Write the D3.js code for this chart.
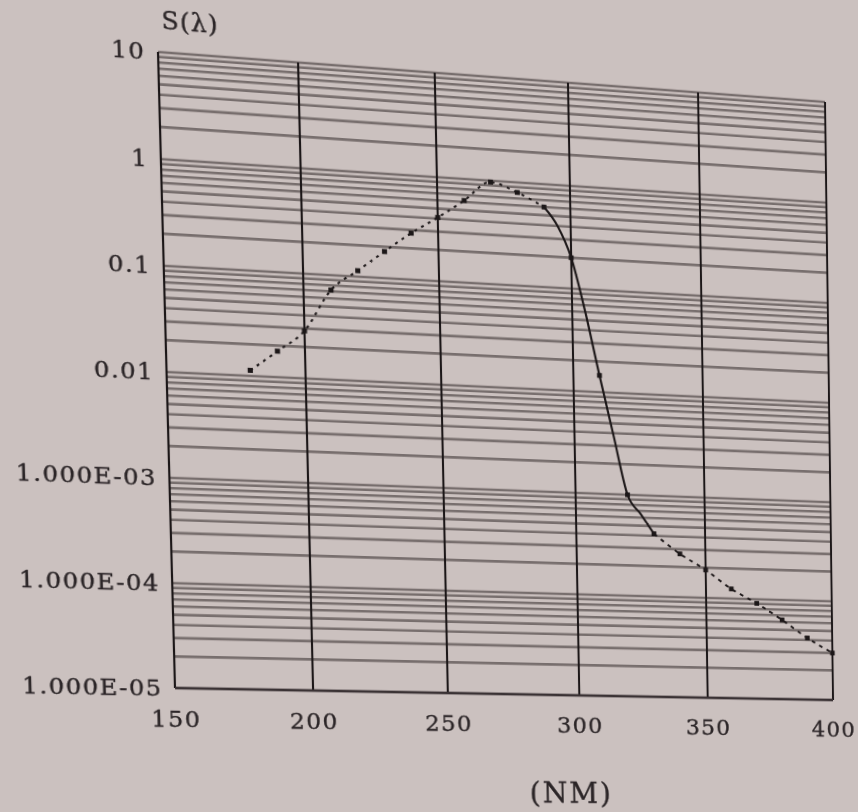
<!DOCTYPE html>
<html>
<head>
<meta charset="utf-8">
<script src="https://cdn.jsdelivr.net/npm/d3@7"></script>
<style>
  html, body { margin: 0; padding: 0; width: 858px; height: 812px; overflow: hidden; background: #cbc1bf; }
  svg { position: absolute; left: 0; top: 0; transform-origin: 0 0; }
  text { font-family: "DejaVu Serif", "Liberation Serif", serif; fill: #2b2527; stroke: #2b2527; stroke-width: 0.35px; }
</style>
</head>
<body>
<svg width="858" height="812"></svg>
<script>
// values
const wavelengths = [180, 190, 200, 210, 220, 230, 240, 250, 260, 270, 280, 290, 295, 300, 305, 310, 315, 320, 325, 330, 340, 350, 360, 370, 380, 390, 400];
const values = [0.0113, 0.0177, 0.0285, 0.072, 0.114, 0.18, 0.28, 0.41, 0.62, 0.97, 0.80, 0.60, 0.40, 0.20, 0.06, 0.0146, 0.0038, 0.001, 0.00065, 0.00042, 0.00027, 0.00019, 0.000125, 0.000091, 0.000063, 0.000042, 0.00003];
const xTicks = [150, 200, 250, 300, 350, 400];
const yTicks = [10, 1, 0.1, 0.01, 0.001, 0.0001, 0.00001];
const yTickLabels = ['10', '1', '0.1', '0.01', '1.000E-03', '1.000E-04', '1.000E-05'];
const xTitle = '(NM)';
const yTitle = 'S(λ)';
// which part of the curve is drawn in which style
const dottedRange = [180, 290], solidRange = [290, 330], dashedRange = [330, 400];

// the printed page is photographed at an angle: map the flat chart onto that quad
const solveHomography = (src, dst) => {
    const A = [];
    src.forEach(([x, y], i) => {
        const [u, v] = dst[i];
        A.push([x, y, 1, 0, 0, 0, -u * x, -u * y, u]);
        A.push([0, 0, 0, x, y, 1, -v * x, -v * y, v]);
    });
    const n = 8;
    for (let c = 0; c < n; c++) {
        let p = c;
        for (let r = c + 1; r < n; r++) if (Math.abs(A[r][c]) > Math.abs(A[p][c])) p = r;
        [A[c], A[p]] = [A[p], A[c]];
        for (let r = 0; r < n; r++) {
            if (r === c) continue;
            const f = A[r][c] / A[c][c];
            for (let k = c; k <= n; k++) A[r][k] -= f * A[c][k];
        }
    }
    return A.map((row, i) => row[n] / row[i]);
};

const render = () => {
    const svg = d3.select('svg');
    const width = +svg.attr('width');
    const height = +svg.attr('height');
    const margin = { left: 160, right: 28, top: 60, bottom: 122 };
    const inner = {
        width: width - (margin.left + margin.right),
        height: height - (margin.top + margin.bottom)
    };

    const xScale = d3.scaleLinear().domain([150, 400]).range([0, inner.width]);
    const yScale = d3.scaleLog().domain([1e-5, 10]).range([inner.height, 0]);

    const g = svg.append('g')
        .attr('transform', `translate(${margin.left},${margin.top})`);

    // log grid, 1..9 in every decade
    g.append('g').selectAll('line').data(yScale.ticks())
        .enter().append('line')
            .attr('x1', 0).attr('x2', inner.width)
            .attr('y1', d => yScale(d)).attr('y2', d => yScale(d))
            .attr('stroke', '#776e6d')
            .attr('stroke-width', 2.6);

    g.append('g').selectAll('line').data(xTicks)
        .enter().append('line')
            .attr('x1', d => xScale(d)).attr('x2', d => xScale(d))
            .attr('y1', 0).attr('y2', inner.height)
            .attr('stroke', '#1c1718')
            .attr('stroke-width', 2.1);

    g.append('line')
        .attr('x1', 0).attr('x2', inner.width)
        .attr('y1', yScale(1e-5)).attr('y2', yScale(1e-5))
        .attr('stroke', '#3a3234')
        .attr('stroke-width', 2.4);

    const yAxis = d3.axisLeft(yScale)
        .tickValues(yTicks)
        .tickFormat((d, i) => yTickLabels[i])
        .tickSize(0)
        .tickPadding(12);
    const xAxis = d3.axisBottom(xScale)
        .tickValues(xTicks)
        .tickSize(0)
        .tickPadding(23);

    const ya = g.append('g').call(yAxis);
    const xa = g.append('g').call(xAxis)
        .attr('transform', `translate(0,${inner.height})`);
    [ya, xa].forEach(a => {
        a.select('.domain').remove();
        a.attr('font-family', null).attr('font-size', 23)
            .style('letter-spacing', '1.4px');
    });

    g.append('text')
        .text(yTitle)
        .attr('x', 4)
        .attr('y', -23)
        .attr('font-size', 24)
        .style('letter-spacing', '1px');
    g.append('text')
        .text(xTitle)
        .attr('x', inner.width * 0.585)
        .attr('y', inner.height + 112)
        .attr('text-anchor', 'middle')
        .attr('font-size', 29)
        .style('letter-spacing', '2px');

    const points = wavelengths.map((w, i) => [w, values[i]]);
    const line = d3.line()
        .x(d => xScale(d[0]))
        .y(d => yScale(d[1]))
        .curve(d3.curveMonotoneX);
    const inRange = r => points.filter(p => p[0] >= r[0] && p[0] <= r[1]);

    g.append('path').datum(inRange(dottedRange))
        .attr('d', line).attr('fill', 'none')
        .attr('stroke', '#1c1718').attr('stroke-width', 2)
        .attr('stroke-dasharray', '3,5');
    g.append('path').datum(inRange(solidRange))
        .attr('d', line).attr('fill', 'none')
        .attr('stroke', '#1c1718').attr('stroke-width', 2.2);
    g.append('path').datum(inRange(dashedRange))
        .attr('d', line).attr('fill', 'none')
        .attr('stroke', '#1c1718').attr('stroke-width', 2)
        .attr('stroke-dasharray', '4,5');

    g.selectAll('rect.mark').data(points.filter(p => p[0] % 10 === 0))
        .enter().append('rect')
            .attr('class', 'mark')
            .attr('x', d => xScale(d[0]) - 2.5)
            .attr('y', d => yScale(d[1]) - 2.5)
            .attr('width', 5).attr('height', 5)
            .attr('fill', '#1c1718');

    // flat plot corners -> where they sit in the photographed page
    const x0 = margin.left, x1 = margin.left + inner.width;
    const y0 = margin.top, y1 = margin.top + inner.height;
    const h = solveHomography(
        [[x0, y0], [x1, y0], [x0, y1], [x1, y1]],
        [[158, 52], [825, 102], [175, 688], [833, 700]]
    );
    svg.style('transform',
        `matrix3d(${h[0]},${h[3]},0,${h[6]},${h[1]},${h[4]},0,${h[7]},0,0,1,0,${h[2]},${h[5]},0,1)`);
};

render();
</script>
</body>
</html>
